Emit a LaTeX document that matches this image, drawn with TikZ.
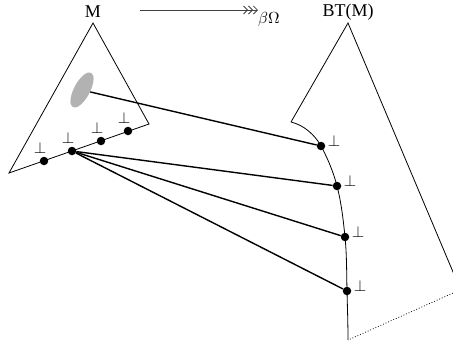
\RequirePackage{fix-cm}
\documentclass[tikz,border=0pt]{standalone}
\usepackage{fontspec}
\setmainfont{Liberation Serif}
\usetikzlibrary{arrows.meta,shapes.geometric}
\newcommand\botsym{\scalebox{1.6}{$\bot$}}
\begin{document}
\begin{tikzpicture}[x=1pt,y=-1pt,
  dot/.style={circle,fill=black,inner sep=0pt,minimum size=8.5pt},
  title/.style={font=\fontsize{18}{21}\selectfont},
  edgeline/.style={line width=0.8pt},
  conn/.style={line width=1.4pt},
  rbot/.style={label={[xshift=13pt,yshift=5pt,inner sep=0pt]center:\botsym}},
  lbot/.style={label={[xshift=-4pt,yshift=13pt,inner sep=0pt]center:\botsym}},
  barb/.tip={Straight Barb[length=4pt,width=8pt]}]
\useasboundingbox (0,0) rectangle (453,346);
\clip (0,0) rectangle (453,346);
% labels
\node[title] (Mlab) at (93,12) {M};
\node[title] (BTlab) at (348,12) {BT(M)};
\coordinate (a1) at (140,10);
\coordinate (a2) at (258,10);
\draw[black!75, line width=0.8pt, -{barb[]barb[]barb[]}] (a1) -- (a2);
\node[anchor=west, inner sep=0pt] (bo) at (258,19) {\scalebox{1.6}{$\beta\Omega$}};
% left triangle
\draw[edgeline] (93,23) -- (149,124) -- (9,173) -- cycle;
\node[ellipse, fill=gray!60, minimum width=39pt, minimum height=16pt, inner sep=0pt, rotate=62] (blob) at (82,90) {};
\node[dot,lbot] (l1) at (44,161) {};
\node[dot,lbot] (l2) at (72,151) {};
\node[dot,lbot] (l3) at (101,141) {};
\node[dot,lbot] (l4) at (128,131) {};
% right triangle
\draw[edgeline] (291,122) -- (348,23) -- (460.5,289.7);
\draw[edgeline, dotted] (460.5,289.7) -- (348,340);
\node[dot,rbot] (r1) at (321,146) {};
\node[dot,rbot] (r2) at (337,186) {};
\node[dot,rbot] (r3) at (345,237) {};
\node[dot,rbot] (r4) at (347,291) {};
\draw[edgeline] (291,122) .. controls (303.5,125) and (314.8,134.6) .. (r1.center)
  .. controls (327.7,158.3) and (333.5,172.4) .. (r2.center)
  .. controls (341.3,202.5) and (343.3,220) .. (r3.center)
  .. controls (346.8,255) and (346.6,273) .. (r4.center)
  .. controls (347.4,307) and (348,324) .. (348,340);
% connectors
\draw[conn] (blob) -- (r1);
\draw[conn] (l2) -- (r2);
\draw[conn] (l2) -- (r3);
\draw[conn] (l2) -- (r4);
\end{tikzpicture}
\end{document}
